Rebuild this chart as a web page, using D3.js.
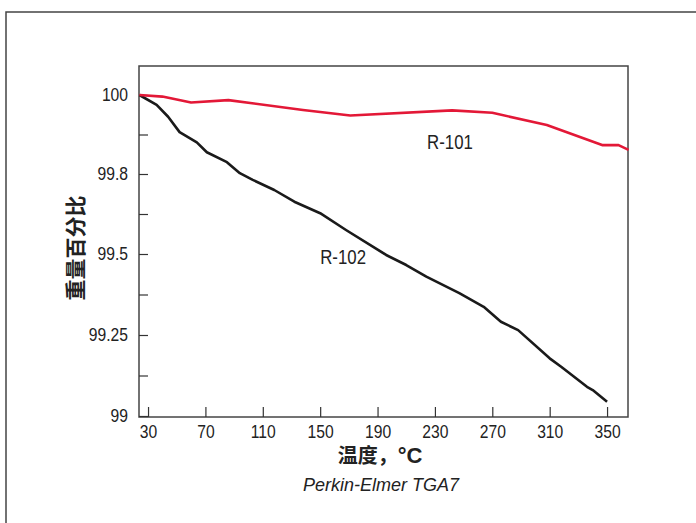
<!DOCTYPE html>
<html>
<head>
<meta charset="utf-8">
<script src="https://cdn.jsdelivr.net/npm/d3@7"></script>
<style>
  html, body { margin: 0; padding: 0; background: #fff; }
  svg text { font-family: "Liberation Sans", Arial, sans-serif; fill: #222; }
  .cjk { font-family: "Noto Sans CJK SC", sans-serif !important; font-weight: 700; }
</style>
</head>
<body>
<svg id="chart" width="696" height="523"></svg>
<script>
// temperatures (°C) and weight percent
const r101Temp = [24, 40, 60, 86, 138, 171, 242, 270, 308, 347, 358, 365];
const r101Val = [100, 99.996, 99.981, 99.987, 99.962, 99.948, 99.961, 99.955, 99.924, 99.873, 99.873, 99.861];

const r102Temp = [24, 36, 44, 52, 64, 71, 85, 94, 103, 118, 132, 150, 168, 196, 210, 224, 247, 264, 276, 288, 310, 318, 336, 340, 350];
const r102Val = [100, 99.975, 99.945, 99.906, 99.88, 99.855, 99.83, 99.802, 99.778, 99.74, 99.696, 99.653, 99.59,
  99.497, 99.466, 99.43, 99.379, 99.337, 99.291, 99.265, 99.178, 99.152, 99.09, 99.08, 99.044];

const xTicks = [30, 70, 110, 150, 190, 230, 270, 310, 350];
const yTicks = [99, 99.25, 99.5, 99.8, 100];
const yMinor = [99.125, 99.375, 99.65, 99.9];
const seriesNames = ["R-101", "R-102"];

const svg = d3.select("#chart");
const plotL = 139, plotR = 628, plotT = 66, plotB = 417;

// squeeze text horizontally (the original uses a condensed face)
function condense(sel, k) {
  sel.each(function () {
    const t = d3.select(this);
    const xv = +t.attr("x") || 0;
    t.attr("x", xv / k).attr("transform", `scale(${k},1)`);
  });
}

// outer border
svg.append("rect")
  .attr("x", 6).attr("y", 12).attr("width", 700).attr("height", 520)
  .attr("fill", "none").attr("stroke", "#444").attr("stroke-width", 1.5);

// x scale
const x = d3.scaleLinear().domain([23.7, 364.6]).range([plotL, plotR]);

// y scale: tick labels are evenly spaced, so piecewise linear
const y = d3.scaleLinear()
  .domain([99, 99.25, 99.5, 99.8, 100])
  .range([416, 335, 254, 174, 95]);

// frame
svg.append("rect")
  .attr("x", plotL).attr("y", plotT).attr("width", plotR - plotL).attr("height", plotB - plotT)
  .attr("fill", "none").attr("stroke", "#444").attr("stroke-width", 1.5);

//xAxis
const xAxis = d3.axisBottom(x).tickValues(xTicks).tickSize(-10).tickPadding(8);
const gx = svg.append("g").attr("transform", `translate(0,${plotB})`).call(xAxis);
gx.select(".domain").remove();
gx.selectAll(".tick line").attr("stroke", "#333").attr("stroke-width", 1.2);
gx.selectAll(".tick text").attr("font-size", 18).attr("fill", "#222").call(condense, 0.87);

//yAxis
const yAxis = d3.axisLeft(y).tickValues(yTicks).tickSize(-9).tickPadding(11)
  .tickFormat(d => String(d));
const gy = svg.append("g").attr("transform", `translate(${plotL},0)`).call(yAxis);
gy.select(".domain").remove();
gy.selectAll(".tick line").attr("stroke", "#333").attr("stroke-width", 1.2);
gy.selectAll(".tick text").attr("font-size", 18).attr("fill", "#222").call(condense, 0.87);
svg.selectAll("g").attr("font-family", null);

// minor y ticks
const gyMinor = svg.append("g").attr("transform", `translate(${plotL},0)`)
  .call(d3.axisLeft(y).tickValues(yMinor).tickSize(-9).tickFormat(""));
gyMinor.select(".domain").remove();
gyMinor.selectAll(".tick line").attr("stroke", "#333").attr("stroke-width", 1.2);

// lines
const line = d3.line().x(d => x(d[0])).y(d => y(d[1]));
const r102 = r102Temp.map((t, i) => [t, r102Val[i]]);
const r101 = r101Temp.map((t, i) => [t, r101Val[i]]);

svg.append("path").datum(r102).attr("d", line)
  .attr("fill", "none").attr("stroke", "#1a1a1a").attr("stroke-width", 2.6).attr("stroke-linejoin", "round");
svg.append("path").datum(r101).attr("d", line)
  .attr("fill", "none").attr("stroke", "#e31837").attr("stroke-width", 2.6).attr("stroke-linejoin", "round");

// series labels
svg.append("text").attr("x", x(240.5)).attr("y", y(99.863)).attr("text-anchor", "middle")
  .attr("font-size", 21).text(seriesNames[0]).call(condense, 0.8);
svg.append("text").attr("x", x(166)).attr("y", y(99.468)).attr("text-anchor", "middle")
  .attr("font-size", 21).text(seriesNames[1]).call(condense, 0.8);

// axis titles
svg.append("text").attr("class", "cjk")
  .attr("transform", `translate(83,248) rotate(-90)`)
  .attr("text-anchor", "middle").attr("font-size", 21).text("重量百分比");

const xt = svg.append("text").attr("x", 380).attr("y", 463).attr("text-anchor", "middle");
xt.append("tspan").attr("class", "cjk").attr("font-size", 20).text("温度，");
xt.append("tspan").attr("font-size", 22).attr("font-weight", 700).text("°C");

svg.append("text").attr("x", 381).attr("y", 491).attr("text-anchor", "middle")
  .attr("font-size", 18).attr("font-style", "italic").text("Perkin-Elmer TGA7");
</script>
</body>
</html>
